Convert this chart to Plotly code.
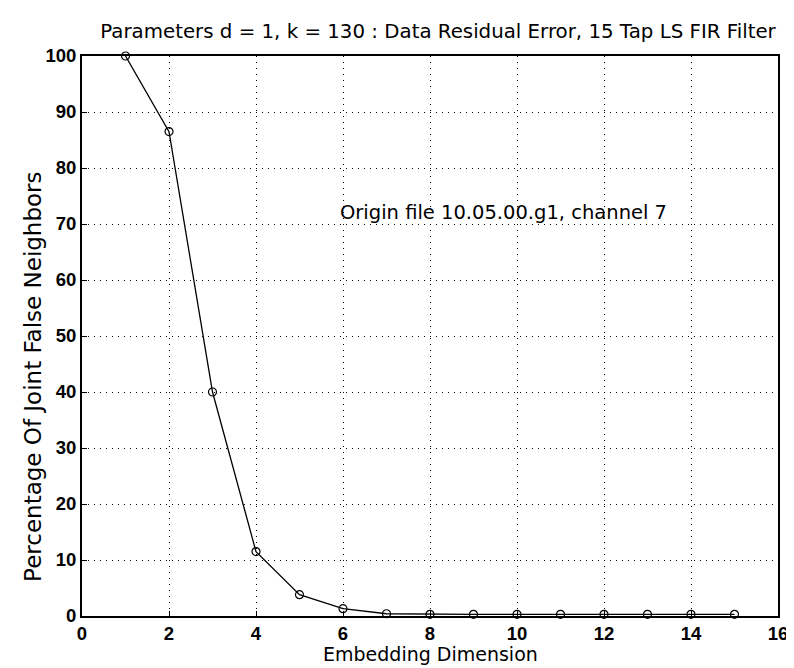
import plotly.graph_objects as go

embedding_dim = [1, 2, 3, 4, 5, 6, 7, 8, 9, 10, 11, 12, 13, 14, 15]
pct_false = [100, 86.5, 40, 11.5, 3.8, 1.3, 0.4, 0.3, 0.3, 0.3, 0.3, 0.3, 0.3, 0.3, 0.3]

x_ticks = [0, 2, 4, 6, 8, 10, 12, 14, 16]
y_ticks = [0, 10, 20, 30, 40, 50, 60, 70, 80, 90, 100]

text_font = "DejaVu Sans, sans-serif"
tick_font = "Liberation Sans, Arial, sans-serif"

fig = go.Figure()
fig.add_trace(go.Scatter(
    x=embedding_dim, y=pct_false, mode="lines+markers",
    line=dict(color="black", width=1.3),
    marker=dict(symbol="circle-open", size=8, color="black", line=dict(width=1.2)),
    showlegend=False, cliponaxis=False,
))

fig.add_annotation(x=5.88, y=72, xref="x", yref="y", xanchor="left", yanchor="middle",
                   text="Origin file 10.05.00.g1, channel 7", showarrow=False,
                   font=dict(family=text_font, size=19.5, color="black"))

# axis titles placed as text so they sit where the reference has them
fig.add_annotation(x=-0.0704, y=0.427, xref="paper", yref="paper",
                   xanchor="center", yanchor="middle", textangle=-90,
                   text="Percentage Of Joint False Neighbors", showarrow=False,
                   font=dict(family=text_font, size=23, color="black"))
fig.add_annotation(x=0.5, y=-0.0676, xref="paper", yref="paper",
                   xanchor="center", yanchor="middle",
                   text="Embedding Dimension", showarrow=False,
                   font=dict(family=text_font, size=19, color="black"))

axis_common = dict(
    showline=True, linecolor="black", linewidth=2, mirror=True,
    showgrid=True, gridcolor="black", griddash="1px,5px", gridwidth=1,
    ticks="inside", ticklen=5, tickcolor="black", zeroline=False,
    tickfont=dict(family=tick_font, size=18.5, color="black", weight="bold"),
)

fig.update_layout(
    width=794, height=668,
    margin=dict(l=74, r=24, t=48, b=60),
    paper_bgcolor="white", plot_bgcolor="white",
    title=dict(text="Parameters d = 1, k = 130 : Data Residual Error, 15 Tap LS FIR Filter",
               x=0.5416, xanchor="center", y=0.966, yanchor="middle",
               font=dict(family=text_font, size=19.8, color="black")),
    xaxis=dict(range=[0, 16], tickvals=x_ticks, **axis_common),
    yaxis=dict(range=[0, 100], tickvals=y_ticks, **axis_common),
)

fig.write_html("out.html")
